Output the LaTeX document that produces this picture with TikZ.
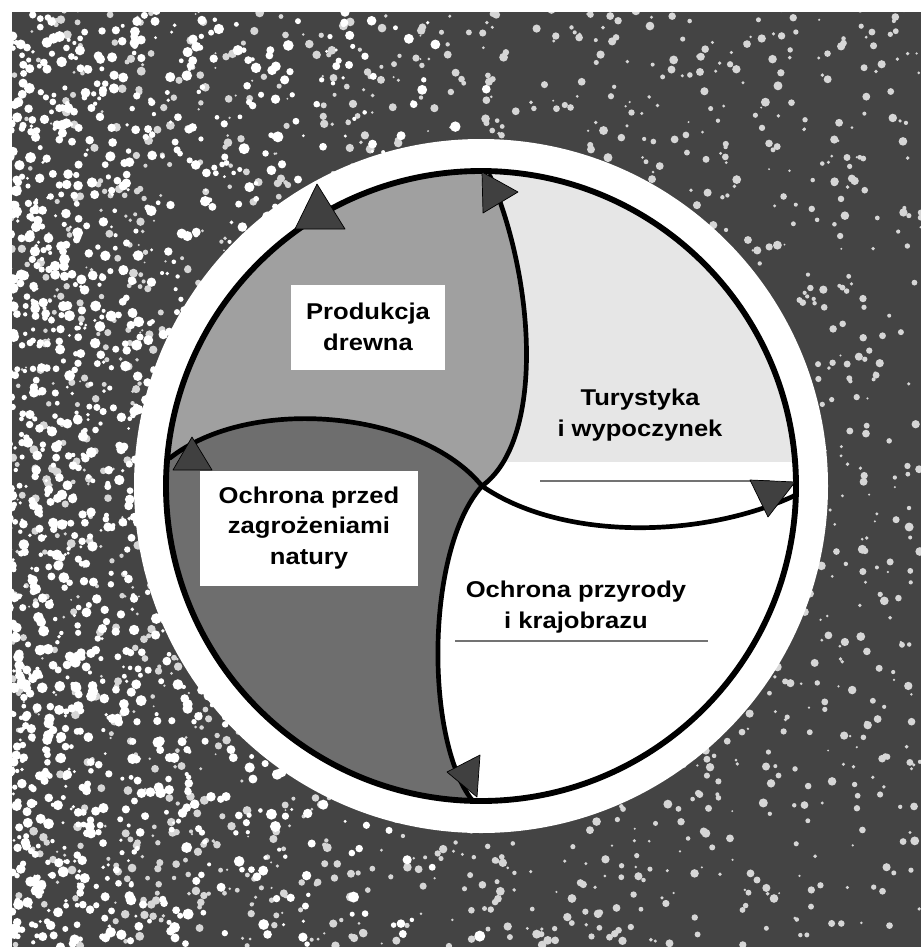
\documentclass[tikz,border=0pt]{standalone}
\usepackage{fontspec}
\setmainfont{Liberation Sans}[FakeStretch=1.12]
\usepackage{xcolor}
\definecolor{woodgray}{HTML}{A0A0A0}
\definecolor{hazardgray}{HTML}{6E6E6E}
\definecolor{leisuregray}{HTML}{E6E6E6}
\definecolor{photodark}{HTML}{444444}
\definecolor{photolight}{HTML}{D6D6D6}
\usetikzlibrary{positioning}

\begin{document}
\begin{tikzpicture}[
        x=0.03cm, y=-0.03cm,
        sector_label/.style={
            font=\fontsize{19.5}{26}\selectfont\bfseries,
            align=center,
            inner sep=0pt
        },
        label_box/.style={
            sector_label,
            fill=white,
            minimum width=#1
        },
        s_curve/.style={
            line width=4pt,
            line cap=round
        },
        tip_mark/.style={
            fill=black!75,
            draw=black,
            line width=0.6pt,
            line join=round
        },
        rule_line/.style={
            draw=black!55,
            line width=1.2pt
        }
    ]
    \useasboundingbox (0,0) rectangle (921,947);

    % Photo background
    \fill[photodark] (0,0) rectangle (921,947);
    \pgfmathsetseed{7}
    \foreach \k in {1,...,2200}{
        \pgfmathsetmacro{\px}{rnd*921}
        \pgfmathsetmacro{\py}{rnd*947}
        \pgfmathsetmacro{\pr}{1+rnd*3.5}
        \fill[photolight] (\px,\py) circle[radius=\pr];
    }
    \foreach \k in {1,...,1600}{
        \pgfmathsetmacro{\px}{rnd*rnd*520}
        \pgfmathsetmacro{\py}{rnd*947}
        \pgfmathsetmacro{\pr}{1.5+rnd*4}
        \fill[white] (\px,\py) circle[radius=\pr];
    }
    \fill[white] (0,0) rectangle (921,12);
    \fill[white] (0,0) rectangle (12,947);

    % Key points of the wheel
    \coordinate (hub) at (482,486);
    \coordinate (top_end) at (490,176);
    \coordinate (bottom_end) at (472,800);
    \coordinate (left_end) at (170,458);
    \coordinate (right_end) at (796,495);

    % White ring
    \fill[white] (481,486) circle[radius=347];

    % Sectors
    \begin{scope}
        \clip (481,486) circle[radius=315];
        \fill[leisuregray] (hub) .. controls (545,440) and (535,280) .. (top_end) -- (490,120) -- (860,120) -- (860,495) -- (right_end) .. controls (700,540) and (560,540) .. (hub) -- cycle;
        \fill[white] (482,462) rectangle (800,560);
        \fill[woodgray] (hub) .. controls (545,440) and (535,280) .. (top_end) -- (490,120) -- (120,120) -- (120,458) -- (left_end) .. controls (250,395) and (420,410) .. (hub) -- cycle;
        \fill[hazardgray] (hub) .. controls (425,550) and (425,740) .. (bottom_end) -- (472,860) -- (120,860) -- (120,458) -- (left_end) .. controls (250,395) and (420,410) .. (hub) -- cycle;
    \end{scope}

    % Thin rules under the right labels
    \draw[rule_line] (540,481) -- (770,481);
    \draw[rule_line] (455,641) -- (708,641);

    % Outer circle and crossing curves
    \draw[line width=5pt] (481,486) circle[radius=315];
    \draw[s_curve] (top_end) .. controls (535,280) and (545,440) .. (hub) .. controls (425,550) and (425,740) .. (bottom_end);
    \draw[s_curve] (left_end) .. controls (250,395) and (420,410) .. (hub) .. controls (560,540) and (700,540) .. (right_end);

    % Arrowheads
    \filldraw[tip_mark] (317,184) -- (295,229) -- (345,229) -- cycle;
    \filldraw[tip_mark] (482,172) -- (518,192) -- (483,213) -- cycle;
    \filldraw[tip_mark] (192,437) -- (173,470) -- (212,470) -- cycle;
    \filldraw[tip_mark] (750,480) -- (795,482) -- (768,517) -- cycle;
    \filldraw[tip_mark] (447,772) -- (480,755) -- (477,797) -- cycle;

    % Labels
    \node[label_box=4.59cm, minimum height=2.55cm] (wood_box) at (368,327) {Produkcja\\drewna};
    \node[label_box=6.54cm, minimum height=3.45cm] (hazard_box) at (309,528) {Ochrona przed\\zagrożeniami\\natury};
    \node[sector_label] (tourism_label) at (640,415) {Turystyka\\i wypoczynek};
    \node[sector_label] (nature_label) at (576,607) {Ochrona przyrody\\i krajobrazu};

\end{tikzpicture}
\end{document}
